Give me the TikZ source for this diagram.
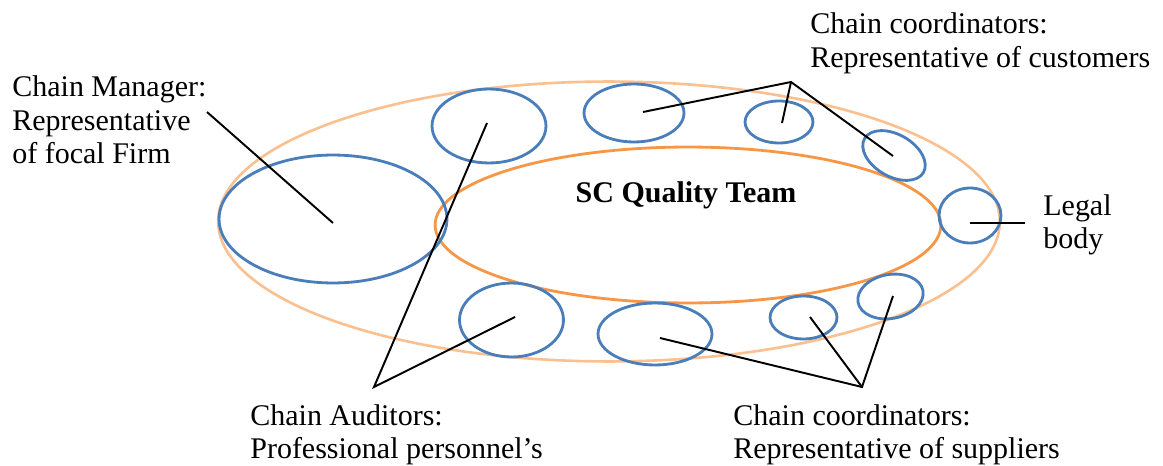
\documentclass[tikz,border=0pt]{standalone}
\usepackage{fontspec}
\setmainfont{Liberation Serif}
\usetikzlibrary{shapes.geometric}
\definecolor{eblue}{HTML}{4A7EBB}
\definecolor{orin}{HTML}{F79646}
\definecolor{orout}{HTML}{FAC090}
\begin{document}
\begin{tikzpicture}[x=0.02cm,y=-0.02cm,
  sz/.style 2 args={minimum width=#1*0.04cm, minimum height=#2*0.04cm},
  ring/.style={ellipse, inner sep=0pt, line width=1.5pt},
  bub/.style={ellipse, draw=eblue, line width=1.6pt, inner sep=0pt},
  conn/.style={draw=black, line width=1.1pt},
  lbl/.style={anchor=base west, inner sep=0pt, font=\fontsize{17.07}{19.06}\selectfont},
]
\useasboundingbox (0,0) rectangle (1163,466);
% rings
\node[ring, draw=orout, sz={391}{140}] (outer) at (609,221.5) {};
\node[ring, draw=orin, line width=1.6pt, sz={253}{78}] (inner) at (688,225) {};
% bubbles
\node[bub, sz={114}{64}] (mgrb) at (333,219) {};
\node[bub, sz={57}{37}] (b1) at (489,126) {};
\node[bub, sz={50}{29}] (b2) at (634,113) {};
\node[bub, sz={34}{21}] (b3) at (779,122) {};
\node[bub, sz={34}{21}, rotate=-30] (b4) at (894,155.5) {};
\node[bub, sz={31}{27.5}] (b5) at (970,215.5) {};
\node[bub, sz={33}{22}, rotate=10] (b6) at (890.5,296.5) {};
\node[bub, sz={33.5}{21.5}] (b7) at (803.5,317.5) {};
\node[bub, sz={57}{31}] (b8) at (655,334) {};
\node[bub, sz={52}{37}] (b9) at (511.5,320) {};
% labels
\node[lbl] (mgr) at (12,97) {\begin{tabular}[t]{@{}l@{}}Chain Manager:\\Representative\\of focal Firm\end{tabular}};
\node[lbl] (cust) at (810,34) {\begin{tabular}[t]{@{}l@{}}Chain coordinators:\\Representative of customers\end{tabular}};
\node[lbl] (legal) at (1043,215) {\begin{tabular}[t]{@{}l@{}}Legal\\body\end{tabular}};
\node[lbl] (aud) at (250,425) {\begin{tabular}[t]{@{}l@{}}Chain Auditors:\\Professional personnel’s\end{tabular}};
\node[lbl] (supp) at (733,425) {\begin{tabular}[t]{@{}l@{}}Chain coordinators:\\Representative of suppliers\end{tabular}};
\node[anchor=base, inner sep=0pt, font=\fontsize{17.07}{19.06}\selectfont\bfseries] (team) at (686,202) {SC Quality Team};
% connector points
\coordinate (mgrS) at (207,112);
\coordinate (mgrE) at (333,223);
\coordinate (tapex) at (791,82);
\coordinate (t2) at (643,112);
\coordinate (t3) at (782,123);
\coordinate (t4) at (893,156);
\coordinate (lgS) at (970,223);
\coordinate (lgE) at (1025,223);
\coordinate (aapex) at (374,387);
\coordinate (a1) at (487,123);
\coordinate (a9) at (515,317);
\coordinate (bapex) at (862,387);
\coordinate (s8) at (660,338);
\coordinate (s7) at (810,317);
\coordinate (s6) at (893,296);
% connectors
\draw[conn] (mgrS) -- (mgrE);
\draw[conn] (t2) -- (tapex) -- (t4);
\draw[conn] (tapex) -- (t3);
\draw[conn] (lgS) -- (lgE);
\draw[conn] (a1) -- (aapex) -- (a9);
\draw[conn] (s8) -- (bapex) -- (s6);
\draw[conn] (bapex) -- (s7);
\end{tikzpicture}
\end{document}
